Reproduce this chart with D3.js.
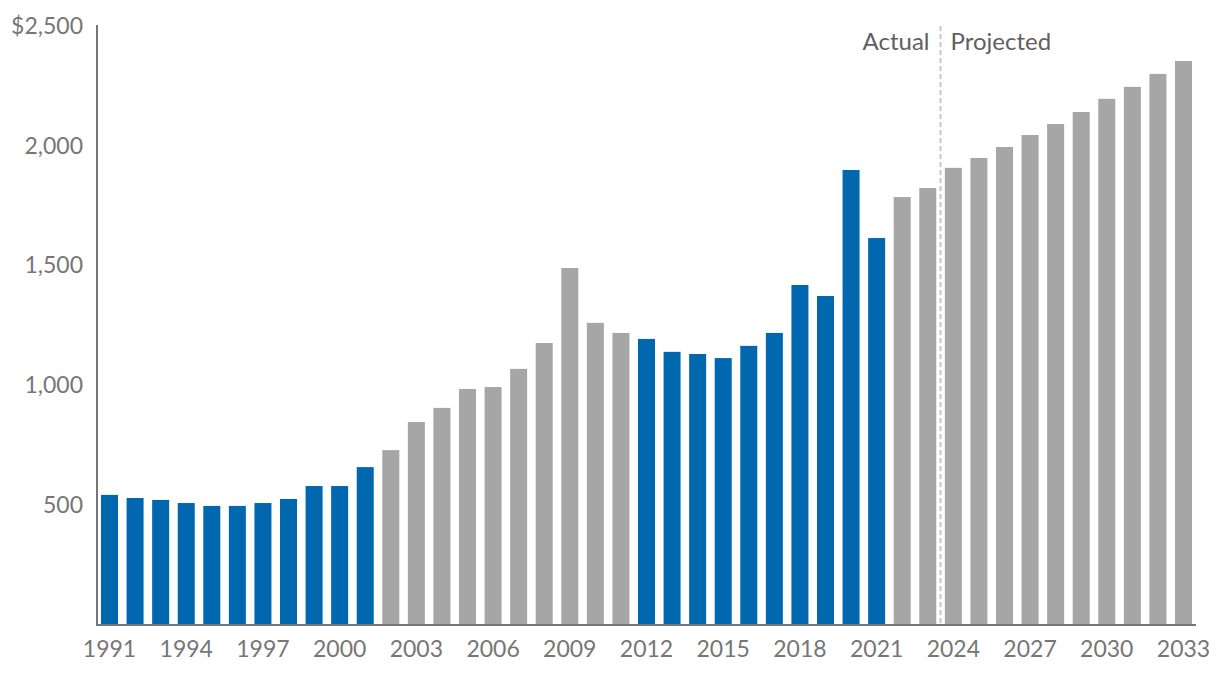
<!DOCTYPE html>
<html>
<head>
<meta charset="utf-8">
<script src="https://cdn.jsdelivr.net/npm/d3@7"></script>
<style>
  html, body { margin: 0; padding: 0; background: #fff; }
  svg { display: block; }
  text { font-family: Lato, "Open Sans", sans-serif; }
</style>
</head>
<body>
<svg id="chart" width="1220" height="684"></svg>
<script>
const years = d3.range(1991, 2034);
const values = [543, 530, 522, 509, 497, 497, 509, 526, 580, 580,
  659, 730, 847, 906, 985, 993, 1069, 1177, 1490, 1261,
  1219, 1194, 1140, 1131, 1114, 1165, 1219, 1419, 1373, 1899,
  1615, 1786, 1824, 1908, 1949, 1995, 2045, 2091, 2141, 2196,
  2246, 2300, 2354];
const blueYears = [[1991, 2001], [2012, 2021]];
const yTicks = [500, 1000, 1500, 2000, 2500];
const xTickYears = [1991, 1994, 1997, 2000, 2003, 2006, 2009, 2012, 2015, 2018, 2021, 2024, 2027, 2030, 2033];
const dividerAfter = 2023;
const labels = { left: "Actual", right: "Projected" };

(function () {
const BLUE = "#0168b0", GRAY = "#a6a6a6", AXIS = "#767676", TEXT = "#767676";

const svg = d3.select("#chart");
const mLeft = 97, mRight = 1196, mTop = 26, mBottom = 625;

const x = d3.scaleBand().domain(years).range([mLeft, mRight]).paddingInner(0.335).paddingOuter(0.157);
const y = d3.scaleLinear().domain([0, 2500]).range([mBottom, mTop]);

const isBlue = yr => blueYears.some(([a, b]) => yr >= a && yr <= b);

svg.append("g").selectAll("rect")
  .data(years.map((yr, i) => ({ yr, v: values[i] })))
  .join("rect")
  .attr("x", d => x(d.yr))
  .attr("width", x.bandwidth())
  .attr("y", d => y(d.v))
  .attr("height", d => y(0) - y(d.v))
  .attr("fill", d => isBlue(d.yr) ? BLUE : GRAY);

// divider
const divX = (x(dividerAfter) + x.bandwidth() + x(dividerAfter + 1)) / 2;
svg.append("line")
  .attr("x1", divX).attr("x2", divX)
  .attr("y1", mTop).attr("y2", mBottom)
  .attr("stroke", "#c4c4c4").attr("stroke-width", 2)
  .attr("stroke-dasharray", "5,3");

svg.append("text").attr("x", divX - 11).attr("y", 44)
  .attr("text-anchor", "end").attr("dominant-baseline", "middle")
  .attr("font-size", 24).attr("fill", "#5f5f5f").text(labels.left);
svg.append("text").attr("x", divX + 10).attr("y", 44)
  .attr("text-anchor", "start").attr("dominant-baseline", "middle")
  .attr("font-size", 24).attr("fill", "#5f5f5f").text(labels.right);

// y axis
const yAxis = d3.axisLeft(y).tickValues(yTicks).tickSize(0).tickPadding(14)
  .tickFormat(d => (d === 2500 ? "$" : "") + d3.format(",")(d));
const gy = svg.append("g").attr("transform", `translate(${mLeft},0)`).call(yAxis);
gy.select(".domain").remove();
gy.selectAll("text").attr("font-size", 23).attr("fill", TEXT)
  .attr("font-family", "Lato, 'Open Sans', sans-serif");
svg.append("line").attr("x1", mLeft).attr("x2", mLeft).attr("y1", mTop - 1).attr("y2", mBottom + 1)
  .attr("stroke", AXIS).attr("stroke-width", 2);

// x axis
const xAxis = d3.axisBottom(x).tickValues(xTickYears).tickSize(0).tickPadding(16)
  .tickFormat(d => String(d));
const gx = svg.append("g").attr("transform", `translate(0,${mBottom})`).call(xAxis);
gx.select(".domain").remove();
gx.selectAll("text").attr("font-size", 23).attr("fill", TEXT)
  .attr("font-family", "Lato, 'Open Sans', sans-serif");
svg.append("line").attr("x1", mLeft - 1).attr("x2", mRight).attr("y1", mBottom).attr("y2", mBottom)
  .attr("stroke", AXIS).attr("stroke-width", 2);
})();
</script>
</body>
</html>
